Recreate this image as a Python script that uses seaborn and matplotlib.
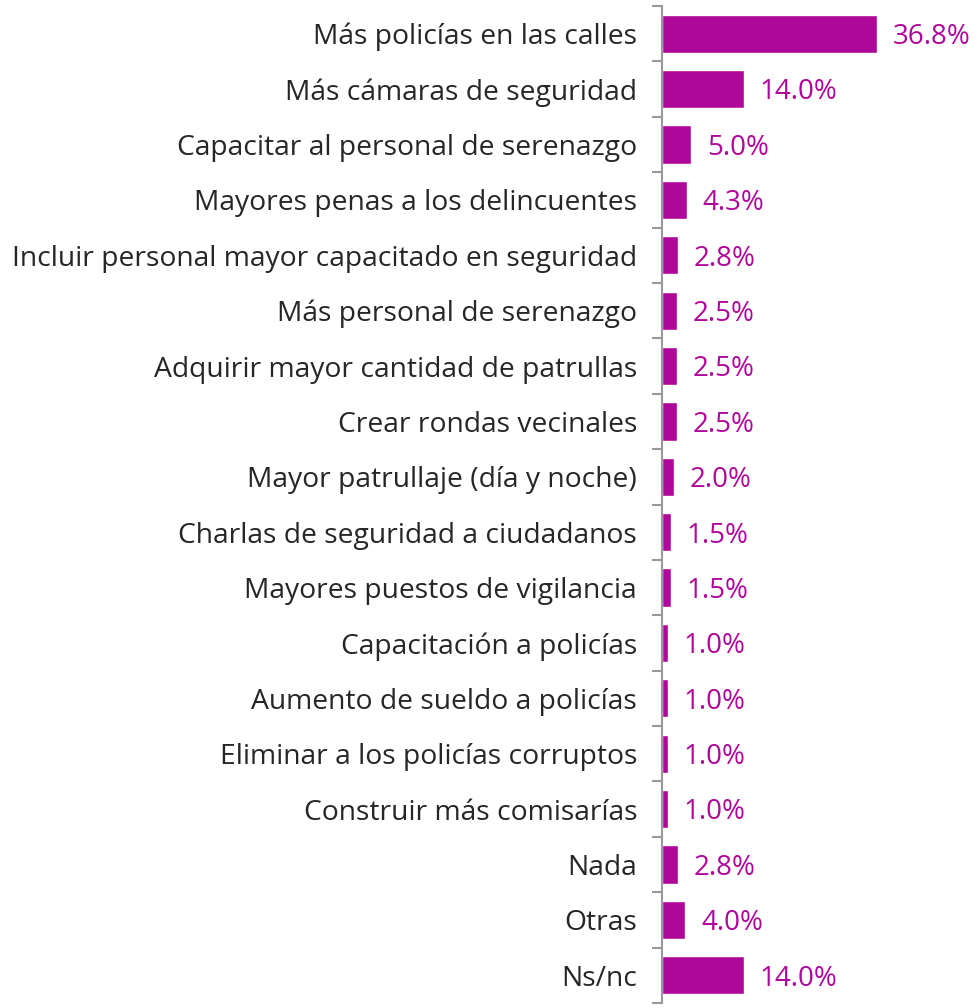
import matplotlib
matplotlib.use("Agg")
import matplotlib.pyplot as plt
import seaborn as sns
import pandas as pd
import numpy as np

categories = [
    "Más policías en las calles",
    "Más cámaras de seguridad",
    "Capacitar al personal de serenazgo",
    "Mayores penas a los delincuentes",
    "Incluir personal mayor capacitado en seguridad",
    "Más personal de serenazgo",
    "Adquirir mayor cantidad de patrullas",
    "Crear rondas vecinales",
    "Mayor patrullaje (día y noche)",
    "Charlas de seguridad a ciudadanos",
    "Mayores puestos de vigilancia",
    "Capacitación a policías",
    "Aumento de sueldo a policías",
    "Eliminar a los policías corruptos",
    "Construir más comisarías",
    "Nada",
    "Otras",
    "Ns/nc",
]
values = [36.8, 14.0, 5.0, 4.3, 2.8, 2.5, 2.5, 2.5, 2.0, 1.5, 1.5, 1.0, 1.0, 1.0, 1.0, 2.8, 4.0, 14.0]

df = pd.DataFrame({"cat": categories, "val": values})

sns.set_theme(style="white")
plt.rcParams['font.family'] = ['Open Sans', 'DejaVu Sans']

BAR = "#B0079B"
fig = plt.figure(figsize=(9.79, 10.08), dpi=100)
ax = fig.add_axes([662/979, 1 - 1003/1008, 1 - 662/979, (1003 - 6)/1008])

sns.barplot(data=df, x="val", y="cat", orient="h", color=BAR, width=0.69,
            saturation=1, ax=ax)

ax.set_xlim(0, 54.3)
ax.set_ylim(len(categories) - 0.5, -0.5)
ax.set_xlabel("")
ax.set_ylabel("")
ax.set_xticks([])
for s in ["top", "right", "bottom"]:
    ax.spines[s].set_visible(False)
ax.spines["left"].set_color("#999999")
ax.spines["left"].set_linewidth(1.5)

ax.tick_params(axis="y", which="major", left=True, length=0, pad=18, labelsize=20.3, labelcolor="#262626")
ax.set_yticks(np.arange(-0.5, len(categories), 1), minor=True)
ax.tick_params(axis="y", which="minor", left=True, length=7, width=1.5, color="#999999")

for i, v in enumerate(values):
    ax.text(v + 2.7, i + 0.06, f"{v:.1f}%", va="center", ha="left", color=BAR, fontsize=20)

fig.savefig("out.png", dpi=100)
